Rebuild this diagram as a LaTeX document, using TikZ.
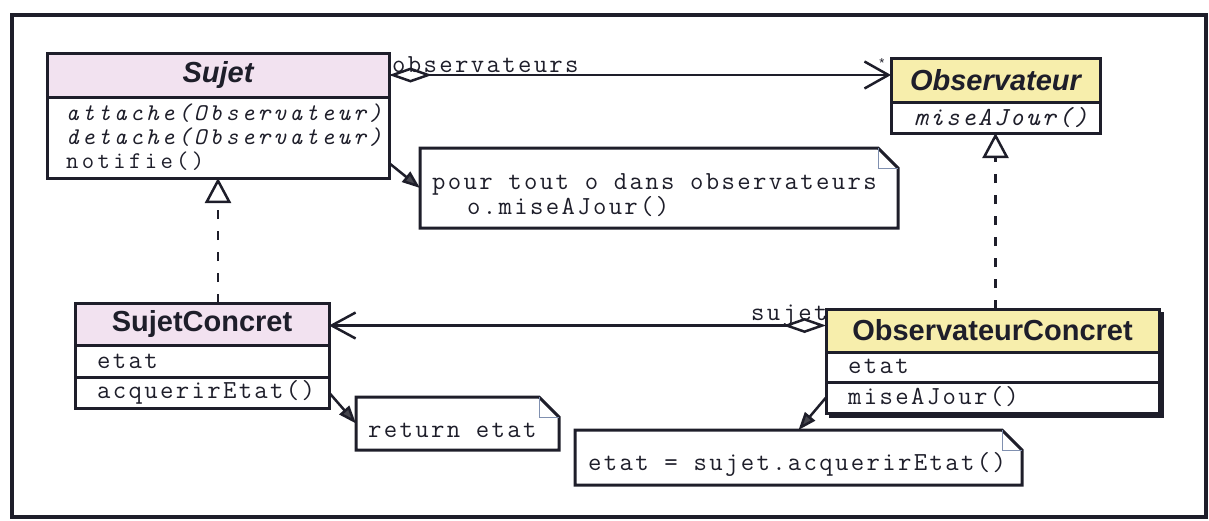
\documentclass[tikz,border=0pt]{standalone}
\usepackage{fontspec}
\setmainfont{Liberation Sans}
\newfontfamily\monof[LetterSpace=9]{Latin Modern Mono}
\newfontfamily\monofs[LetterSpace=14]{Latin Modern Mono}
\usetikzlibrary{arrows.meta,calc}
\definecolor{ink}{RGB}{30,30,42}
\definecolor{pinkh}{RGB}{242,226,240}
\definecolor{yelh}{RGB}{247,238,172}
\definecolor{foldc}{RGB}{128,144,176}
\definecolor{tipc}{RGB}{70,70,78}
\begin{document}
\begin{tikzpicture}[x=1pt,y=-1pt,
  comp/.style={draw=ink,line width=3pt,fill=white,inner sep=0pt,outer sep=0pt},
  hdr/.style={comp,font=\fontsize{29}{29}\selectfont\bfseries,text=ink},
  mtext/.style={anchor=base west,inner sep=0pt,text height=14pt,text depth=4pt,font=\monof\fontsize{26}{26}\selectfont,text=ink},
  mital/.style={mtext,font=\monof\itshape\fontsize{26}{26}\selectfont},
  stext/.style={mtext,font=\monofs\fontsize{24}{24}\selectfont},
  sital/.style={mtext,font=\monofs\itshape\fontsize{24}{24}\selectfont},
  notebox/.style={inner sep=0pt,outer sep=0pt},
  notel/.style={draw=ink,line width=3pt,fill=white,line join=miter},
  foldl/.style={draw=foldc,line width=1pt},
  assoc/.style={draw=ink,line width=2.5pt},
  real/.style={draw=ink,line width=2.5pt,dash pattern=on 9pt off 12pt},
  notelink/.style={draw=ink,line width=2.5pt,-{Triangle[length=18pt,width=13pt,fill=tipc]}}
]
\useasboundingbox (0,0) rectangle (1209,520);
\draw[ink,line width=4pt] (12,15) rectangle (1206,517);

% Sujet
\node[comp,minimum width=342pt,minimum height=81pt,anchor=north] (sujetB) at (218,97) {};
\node[hdr,fill=pinkh,minimum width=342pt,minimum height=44pt] (sujetH) at (218,75) {\itshape Sujet};
\node[sital] (s1) at (66,120) {attache(Observateur)};
\node[sital] (s2) at (66,144) {detache(Observateur)};
\node[stext] (s3) at (66,168) {notifie()};

% Observateur
\node[comp,minimum width=209pt,minimum height=31pt,anchor=north] (obsB) at (995.5,102) {};
\node[hdr,fill=yelh,minimum width=209pt,minimum height=44pt] (obsH) at (995.5,80) {\itshape Observateur};
\node[mital] (o1) at (914,125) {miseAJour()};

% SujetConcret
\node[comp,minimum width=254pt,minimum height=32pt,anchor=north] (scA) at (202,345) {};
\node[comp,minimum width=254pt,minimum height=31pt,anchor=north] (scM) at (scA.south) {};
\node[hdr,fill=pinkh,minimum width=254pt,minimum height=42pt] (scH) at (202,324) {SujetConcret};
\node[mtext] (sc1) at (97,368) {etat};
\node[mtext] (sc2) at (97,398) {acquerirEtat()};

% ObservateurConcret
\draw[ink,line width=3pt] (1162,312) -- (1162,416) -- (829,416);
\node[comp,minimum width=333pt,minimum height=30pt,anchor=north] (ocA) at (992.5,352) {};
\node[comp,minimum width=333pt,minimum height=31pt,anchor=north] (ocM) at (ocA.south) {};
\node[hdr,fill=yelh,minimum width=333pt,minimum height=43pt] (ocH) at (992.5,330.5) {ObservateurConcret};
\node[mtext] (oc1) at (848,373) {etat};
\node[mtext] (oc2) at (848,404) {miseAJour()};

% Notes
\node[notebox,minimum width=478pt,minimum height=80pt] (n1) at (659,188) {};
\draw[notel] (n1.north west) -- ([xshift=-20pt]n1.north east) -- ([yshift=-20pt]n1.north east) -- (n1.south east) -- (n1.south west) -- cycle;
\draw[foldl] ([xshift=-20pt]n1.north east) -- ([xshift=-20pt,yshift=-20pt]n1.north east) -- ([yshift=-20pt]n1.north east);
\node[mtext] (n1a) at (432,189) {pour tout o dans observateurs};
\node[mtext] (n1b) at (467,214) {o.miseAJour()};

\node[notebox,minimum width=203pt,minimum height=53pt] (n2) at (457.5,423.5) {};
\draw[notel] (n2.north west) -- ([xshift=-20pt]n2.north east) -- ([yshift=-20pt]n2.north east) -- (n2.south east) -- (n2.south west) -- cycle;
\draw[foldl] ([xshift=-20pt]n2.north east) -- ([xshift=-20pt,yshift=-20pt]n2.north east) -- ([yshift=-20pt]n2.north east);
\node[mtext] (n2a) at (368,437) {return etat};

\node[notebox,minimum width=447pt,minimum height=55pt] (n3) at (798.5,457.5) {};
\draw[notel] (n3.north west) -- ([xshift=-20pt]n3.north east) -- ([yshift=-20pt]n3.north east) -- (n3.south east) -- (n3.south west) -- cycle;
\draw[foldl] ([xshift=-20pt]n3.north east) -- ([xshift=-20pt,yshift=-20pt]n3.north east) -- ([yshift=-20pt]n3.north east);
\node[mtext] (n3a) at (588,470) {etat = sujet.acquerirEtat()};

% Associations
\draw[assoc,{Diamond[fill=white,length=43pt,width=15pt]}-{Straight Barb[length=24pt,width=27pt]}] (sujetH.east) -- (sujetH.east -| obsH.west);
\node[mtext] (lobs) at (392,72) {observateurs};
\node[inner sep=0pt,font=\fontsize{13}{13}\selectfont,text=ink] (star) at (882,63) {*};

\draw[assoc,{Diamond[fill=white,length=43pt,width=15pt]}-{Straight Barb[length=24pt,width=26pt]}] ([yshift=5pt]ocH.west) -- ([yshift=5pt]ocH.west -| scH.east);
\node[mtext] (lsuj) at (751,320) {sujet};

% Realizations
\draw[real,-{Triangle[fill=white,length=25pt,width=26pt]}] (sujetB.south |- scH.north) -- (sujetB.south);
\draw[real,-{Triangle[fill=white,length=25pt,width=26pt]}] (obsB.south |- ocH.north) -- (obsB.south);

% Note links
\draw[notelink] ([yshift=15pt]sujetB.south east) -- (n1.west);
\draw[notelink] (scM.east) -- (n2.west);
\draw[notelink] (ocM.west) -- (n3.north);
\end{tikzpicture}
\end{document}
